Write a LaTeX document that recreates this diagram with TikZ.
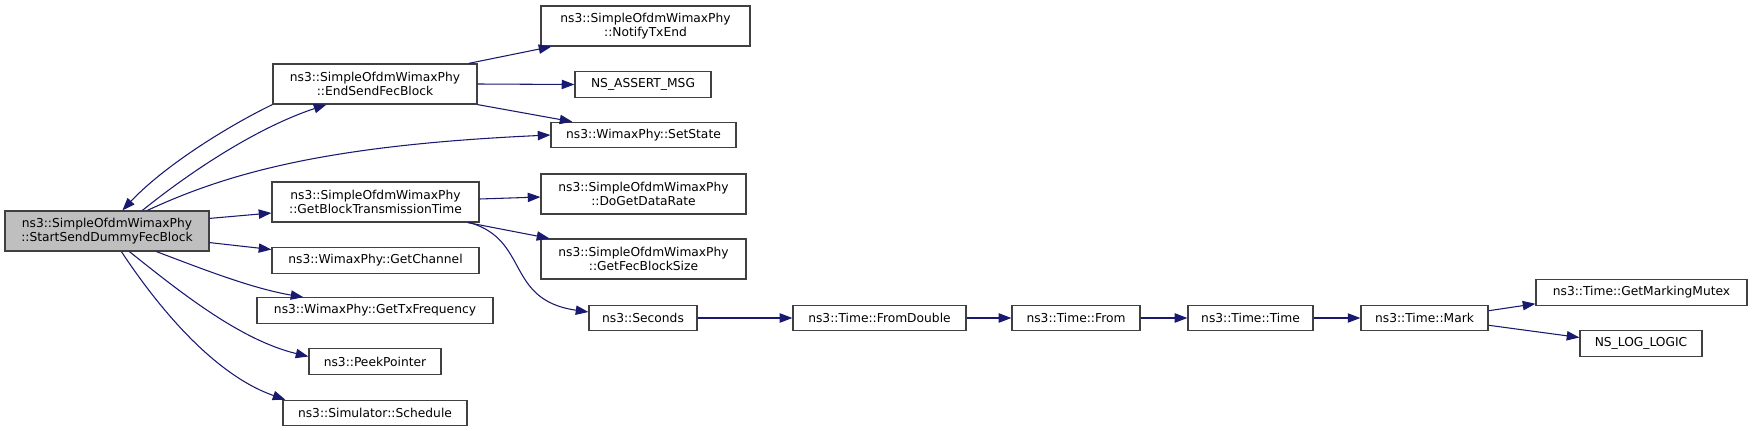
\documentclass[tikz,border=0pt]{standalone}
\usepackage{fontspec}
\setmainfont{DejaVu Sans}
\usepackage{tikz}
\usetikzlibrary{arrows.meta, calc}

\definecolor{edgeblue}{RGB}{25,25,112}
\definecolor{boxline}{RGB}{64,64,64}
\definecolor{startgray}{RGB}{191,191,191}

\tikzset{
    fn/.style={draw=boxline, line width=0.9pt, fill=white, align=center, inner sep=0pt,
        minimum height=19pt, font=\fontsize{9.2}{10.6}\selectfont},
    fntwo/.style={fn, minimum height=30pt},
    call/.style={edgeblue, line width=0.8pt, -{Triangle[length=9.5pt, width=7pt]}},
}

\begin{document}
\begin{tikzpicture}[x=0.75pt, y=-0.75pt]
    \useasboundingbox (0,0) rectangle (1752,431);

    % the function itself
    \node[fntwo, fill=startgray, minimum width=153pt] (start) at (107,231) {ns3::SimpleOfdmWimaxPhy\\::StartSendDummyFecBlock};

    % functions it calls
    \node[fntwo, minimum width=153pt] (endsend) at (375,84) {ns3::SimpleOfdmWimaxPhy\\::EndSendFecBlock};
    \node[fntwo, minimum width=155.25pt] (gbt) at (375.5,202) {ns3::SimpleOfdmWimaxPhy\\::GetBlockTransmissionTime};
    \node[fn, minimum width=155.25pt] (getchannel) at (375.5,260.5) {ns3::WimaxPhy::GetChannel};
    \node[fn, minimum width=177pt] (txfreq) at (375,310.5) {ns3::WimaxPhy::GetTxFrequency};
    \node[fn, minimum width=99pt] (peek) at (375,361.5) {ns3::PeekPointer};
    \node[fn, minimum width=138pt] (schedule) at (375,413) {ns3::Simulator::Schedule};

    % second level
    \node[fntwo, minimum width=156.75pt] (notify) at (645.5,26) {ns3::SimpleOfdmWimaxPhy\\::NotifyTxEnd};
    \node[fn, minimum width=102pt] (assert) at (643,84.5) {NS\_ASSERT\_MSG};
    \node[fn, minimum width=138.75pt] (setstate) at (643.5,135) {ns3::WimaxPhy::SetState};
    \node[fntwo, minimum width=153.75pt] (dogetdatarate) at (643.5,194) {ns3::SimpleOfdmWimaxPhy\\::DoGetDataRate};
    \node[fntwo, minimum width=153.75pt] (getfec) at (643.5,259) {ns3::SimpleOfdmWimaxPhy\\::GetFecBlockSize};
    \node[fn, minimum width=81pt] (seconds) at (643,318) {ns3::Seconds};

    % chain of Time calls
    \node[fn, minimum width=129.75pt] (fromdouble) at (879.5,318) {ns3::Time::FromDouble};
    \node[fn, minimum width=96pt] (from) at (1076,318) {ns3::Time::From};
    \node[fn, minimum width=93.75pt] (time) at (1250.5,318) {ns3::Time::Time};
    \node[fn, minimum width=95.25pt] (mark) at (1424.5,318) {ns3::Time::Mark};
    \node[fn, minimum width=158.25pt] (mutex) at (1641.5,292.5) {ns3::Time::GetMarkingMutex};
    \node[fn, minimum width=91.5pt] (loglogic) at (1641,343.5) {NS\_LOG\_LOGIC};

    % edges out of StartSendDummyFecBlock
    \draw[call] (endsend.south west) .. controls (230,125) and (165,165) .. ($(start.north west)+(118,0)$);
    \draw[call] ($(start.north west)+(138,0)$) .. controls (180,180) and (250,130) .. ($(endsend.south west)+(54,0)$);
    \draw[call] ($(start.north west)+(143,0)$) .. controls (230,172) and (330,145) .. (setstate.west);
    \draw[call] ($(start.north east)+(0,8)$) -- ($(gbt.west)+(0,11)$);
    \draw[call] ($(start.south east)+(0,-9)$) -- ($(getchannel.west)+(0,-11)$);
    \draw[call] ($(start.south west)+(152,0)$) .. controls (200,268) and (250,288) .. ($(txfreq.north west)+(47,0)$);
    \draw[call] ($(start.south west)+(125,0)$) .. controls (180,292) and (240,340) .. ($(peek.west)+(0,-5)$);
    \draw[call] ($(start.south west)+(117,0)$) .. controls (160,310) and (215,375) .. ($(schedule.north west)+(3,0)$);

    % edges out of EndSendFecBlock
    \draw[call] ($(endsend.north east)+(-9,0)$) -- ($(notify.south west)+(11,0)$);
    \draw[call] (endsend.east) -- (assert.west);
    \draw[call] (endsend.south east) -- ($(setstate.north west)+(22,0)$);

    % edges out of GetBlockTransmissionTime
    \draw[call] ($(gbt.east)+(0,-3)$) -- ($(dogetdatarate.west)+(0,3)$);
    \draw[call] ($(gbt.south east)+(-12,0)$) -- ($(getfec.north west)+(9,0)$);
    \draw[call] ($(gbt.south east)+(-10,0)$) .. controls (530,240) and (505,300) .. ($(seconds.west)+(0,-6)$);

    % Seconds down to Mark
    \draw[call] (seconds) -- (fromdouble);
    \draw[call] (fromdouble) -- (from);
    \draw[call] (from) -- (time);
    \draw[call] (time) -- (mark);
    \draw[call] ($(mark.north east)+(0,6)$) -- ($(mutex.south west)+(0,-2)$);
    \draw[call] ($(mark.south east)+(0,-6)$) -- ($(loglogic.west)+(0,-6)$);
\end{tikzpicture}
\end{document}
